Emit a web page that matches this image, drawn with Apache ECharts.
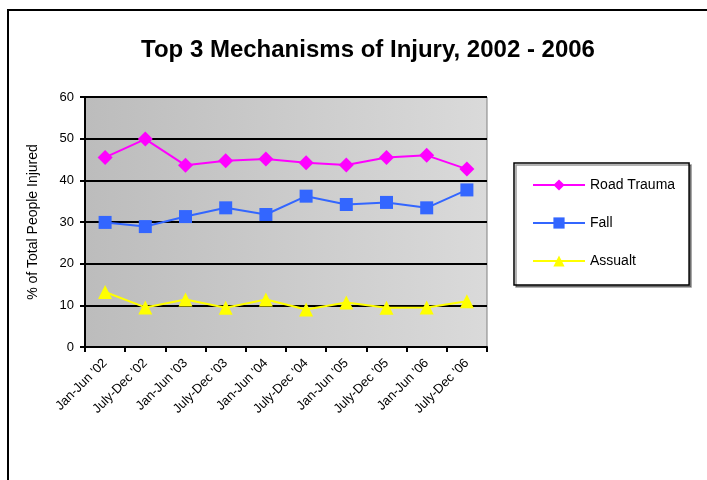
<!DOCTYPE html>
<html><head><meta charset="utf-8">
<script src="https://cdn.jsdelivr.net/npm/echarts@6/dist/echarts.min.js"></script>
<style>html,body{margin:0;padding:0;background:#fff}#c{width:707px;height:480px}</style>
</head><body><div id="c"></div>
<script>
var categories = ["Jan-Jun '02","July-Dec '02","Jan-Jun '03","July-Dec '03","Jan-Jun '04","July-Dec '04","Jan-Jun '05","July-Dec '05","Jan-Jun '06","July-Dec '06"];
var roadTrauma = [45.5, 49.9, 43.6, 44.7, 45.1, 44.2, 43.7, 45.5, 46.0, 42.7];
var fall = [29.9, 28.9, 31.3, 33.4, 31.8, 36.2, 34.2, 34.7, 33.4, 37.7];
var assault = [13.2, 9.5, 11.4, 9.4, 11.4, 9.0, 10.7, 9.4, 9.5, 11.0];
var yTicks = [0, 10, 20, 30, 40, 50, 60];

var chart = echarts.init(document.getElementById('c'));
var font = 'Arial, "Liberation Sans", sans-serif';
chart.setOption({
  animation: false,
  graphic: [{type:'rect', shape:{x:8,y:10,width:720,height:500}, style:{fill:'none', stroke:'#000', lineWidth:2}, z:-10}],
  title: {text:'Top 3 Mechanisms of Injury, 2002 - 2006', left:363, textAlign:'center', top:33,
    textStyle:{fontFamily:font, fontWeight:'bold', fontSize:24, color:'#000'}},
  grid: {left:85, top:97, right:220, bottom:133, show:true, borderColor:'#808080', borderWidth:1,
    backgroundColor: new echarts.graphic.LinearGradient(0,0,1,0,[{offset:0,color:'#bcbcbc'},{offset:1,color:'#dadada'}])},
  legend: {orient:'vertical', left:514, top:163, itemWidth:52, itemHeight:14, itemGap:24,
    padding:[15,14,17,18], borderColor:'#000', borderWidth:1.5, backgroundColor:'#fff',
    shadowColor:'rgba(0,0,0,0.4)', shadowOffsetX:2, shadowOffsetY:2, shadowBlur:0,
    textStyle:{fontFamily:font, fontSize:14, color:'#000', padding:[0,0,0,0]},
    data:['Road Trauma','Fall','Assualt']},
  xAxis: {type:'category', data:categories, boundaryGap:true,
    axisLine:{lineStyle:{color:'#000', width:2}},
    axisTick:{show:true, length:5, lineStyle:{color:'#000', width:2}},
    axisLabel:{rotate:45, fontFamily:font, fontSize:13, color:'#000', margin:14}},
  yAxis: {type:'value', min:0, max:60, interval:10,
    name:'% of Total People Injured', nameLocation:'middle', nameGap:45,
    nameTextStyle:{fontFamily:font, fontSize:14, color:'#000'},
    axisLine:{show:true, lineStyle:{color:'#000', width:2}},
    axisTick:{show:true, length:5, lineStyle:{color:'#000', width:2}},
    axisLabel:{fontFamily:font, fontSize:13, color:'#000', margin:11,
      formatter:function(v){return yTicks.indexOf(v)>=0? String(v):'';}},
    splitLine:{show:true, lineStyle:{color:'#000', width:2}}},
  series: [
    {name:'Road Trauma', type:'line', data:roadTrauma, symbol:'diamond', symbolSize:15,
      lineStyle:{color:'#ff00ff', width:2}, itemStyle:{color:'#ff00ff'}},
    {name:'Fall', type:'line', data:fall, symbol:'rect', symbolSize:13,
      lineStyle:{color:'#3366ff', width:2}, itemStyle:{color:'#3366ff'}},
    {name:'Assualt', type:'line', data:assault, symbol:'triangle', symbolSize:14,
      lineStyle:{color:'#ffff00', width:2}, itemStyle:{color:'#ffff00'}}
  ]
});
</script></body></html>
